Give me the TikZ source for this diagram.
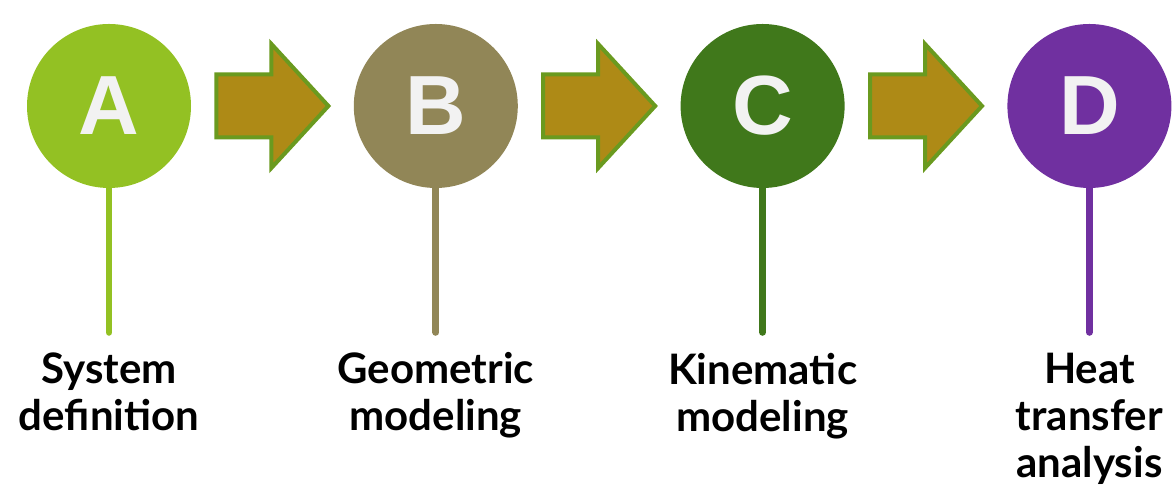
\documentclass[tikz,border=0pt]{standalone}
\usepackage{fontspec}
\setmainfont{Liberation Sans}
\newfontfamily\labelfont{Lato}
\usetikzlibrary{
  positioning,
  calc,
}
\definecolor{stepA}{HTML}{93C123}
\definecolor{stepB}{HTML}{918657}
\definecolor{stepC}{HTML}{40781B}
\definecolor{stepD}{HTML}{7030A0}
\definecolor{letterwhite}{HTML}{F2F2F2}
\definecolor{arrowfill}{HTML}{AE8A16}
\definecolor{arrowline}{HTML}{6A9A1F}

\begin{document}
\begin{tikzpicture}[
  node distance=81pt,
  every node/.style={inner sep=0pt},
  stage/.style={
    circle, minimum size=82pt,
    text=letterwhite, font=\fontsize{42}{42}\selectfont\bfseries,
  },
  stem/.style={line width=3.4pt, line cap=round},
  caption/.style={
    align=center,
    font=\labelfont\fontsize{21}{23.5}\selectfont\bfseries,
  },
  blockarrow/.style={draw=arrowline, fill=arrowfill, line width=2pt},
]
  \useasboundingbox (0,0) rectangle (588pt,242.5pt);

  % Stage circles
  \node[stage, fill=stepA] (a) at (54.5pt,189.5pt) {A};
  \node[stage, fill=stepB, right=of a] (b) {B};
  \node[stage, fill=stepC, right=of b] (c) {C};
  \node[stage, fill=stepD, right=of c] (d) {D};

  % Stems below the circles
  \foreach \n/\col in {a/stepA, b/stepB, c/stepC, d/stepD} {
    \coordinate[below=72pt of \n.south] (\n-end);
    \draw[stem, \col] (\n.south) -- (\n-end);
  }

  % Captions
  \node[caption, below=10pt of a-end] (a-text) {System\\definition};
  \node[caption, below=10pt of b-end] (b-text) {Geometric\\modeling};
  \node[caption, below=10pt of c-end] (c-text) {Kinematic\\modeling};
  \node[caption, below=10pt of d-end] (d-text) {Heat\\transfer\\analysis};

  % Block arrows between stages
  \foreach \from/\to in {a/b, b/c, c/d} {
    \coordinate (\from-mid) at ($(\from.east)!0.5!(\to.west)$);
    \draw[blockarrow] ($(\from-mid)+(-28pt,15.75pt)$) -- ++(27.5pt,0) -- ++(0,15.25pt)
      -- ($(\from-mid)+(28pt,0)$) -- ($(\from-mid)+(-0.5pt,-31pt)$) -- ++(0,15.25pt)
      -- ($(\from-mid)+(-28pt,-15.75pt)$) -- cycle;
  }

\end{tikzpicture}
\end{document}
